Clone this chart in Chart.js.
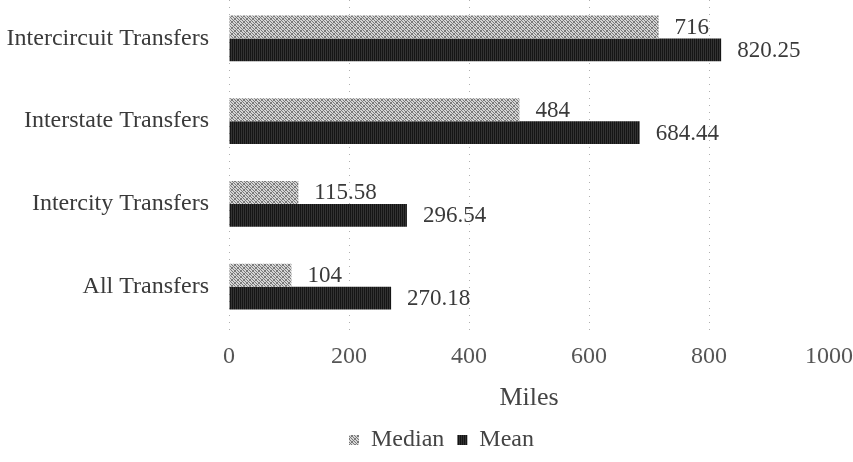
<!DOCTYPE html>
<html>
<head>
<meta charset="utf-8">
<script src="https://cdn.jsdelivr.net/npm/chart.js@4/dist/chart.umd.min.js"></script>
<style>
  html, body { margin: 0; padding: 0; background: #fff; }
  #wrap { width: 853px; height: 462px; }
</style>
</head>
<body>
<div id="wrap"><canvas id="c" width="853" height="462"></canvas></div>
<script>
const categories = ['Intercircuit Transfers', 'Interstate Transfers', 'Intercity Transfers', 'All Transfers'];
const medianMiles = [716, 484, 115.58, 104];
const meanMiles = [820.25, 684.44, 296.54, 270.18];
const medianLabels = ['716', '484', '115.58', '104'];
const meanLabels = ['820.25', '684.44', '296.54', '270.18'];
const xTicks = [0, 200, 400, 600, 800, 1000];

const FONT = '"Liberation Serif", "Times New Roman", serif';

// Grey hatched fill for the median bars
function hatchPattern() {
  const c = document.createElement('canvas');
  c.width = 6; c.height = 6;
  const g = c.getContext('2d');
  g.fillStyle = '#d6d6d6';
  g.fillRect(0, 0, 6, 6);
  g.fillStyle = '#7a7a7a';
  for (let i = 0; i < 6; i++) {
    g.fillRect(i % 6, i, 1, 1);
    g.fillRect((i + 3) % 6, i, 1, 1);
    g.fillRect((7 - i) % 6, i, 1, 1);
  }
  return g.createPattern(c, 'repeat');
}
// Near-black fill with faint vertical striping for the mean bars
function darkPattern() {
  const c = document.createElement('canvas');
  c.width = 2; c.height = 2;
  const g = c.getContext('2d');
  g.fillStyle = '#151515';
  g.fillRect(0, 0, 2, 2);
  g.fillStyle = '#333333';
  g.fillRect(1, 0, 1, 2);
  return g.createPattern(c, 'repeat');
}

// Category bands sit slightly higher than the plot frame; legend is nudged right
const layoutTweaks = {
  id: 'layoutTweaks',
  afterLayout(chart) {
    const y = chart.scales.y;
    y.top -= 3;
    y.bottom -= 2;
    y.configure();
    chart.legend.left += 54;
  }
};

const valueLabels = {
  id: 'valueLabels',
  afterDatasetsDraw(chart) {
    const ctx = chart.ctx;
    ctx.save();
    ctx.font = '23px ' + FONT;
    ctx.fillStyle = '#3a3a3a';
    ctx.textAlign = 'left';
    ctx.textBaseline = 'middle';
    const texts = [medianLabels, meanLabels];
    chart.data.datasets.forEach((ds, di) => {
      chart.getDatasetMeta(di).data.forEach((bar, i) => {
        ctx.fillText(texts[di][i], bar.x + 16, bar.y + 1);
      });
    });
    ctx.restore();
  }
};

new Chart(document.getElementById('c'), {
  type: 'bar',
  data: {
    labels: categories,
    datasets: [
      { label: 'Median', data: medianMiles, backgroundColor: hatchPattern(), borderWidth: 0 },
      { label: 'Mean', data: meanMiles, backgroundColor: darkPattern(), borderWidth: 0 }
    ]
  },
  options: {
    indexAxis: 'y',
    responsive: false,
    animation: false,
    layout: { padding: { top: 0, right: 24, bottom: 0, left: 0 } },
    datasets: { bar: { categoryPercentage: 0.555, barPercentage: 1.0 } },
    scales: {
      x: {
        min: 0, max: 1000,
        afterBuildTicks(axis) { axis.ticks = xTicks.map(v => ({ value: v })); },
        grid: {
          color: ctx => (ctx.tick && ctx.tick.value === 1000 ? 'rgba(0,0,0,0)' : '#b0b0b0'),
          lineWidth: 1,
          drawTicks: false
        },
        border: { display: false, dash: [1, 6] },
        ticks: { font: { family: FONT, size: 24 }, color: '#555', padding: 12, callback: v => String(v) },
        title: { display: true, text: 'Miles', font: { family: FONT, size: 26 }, color: '#444', padding: { top: 0, bottom: 1 } },
        afterFit(axis) { axis.paddingLeft = 0; axis.paddingRight = 0; }
      },
      y: {
        grid: { display: false, drawTicks: false },
        border: { display: false },
        ticks: { font: { family: FONT, size: 24 }, color: '#3a3a3a', padding: 20 },
        afterFit(axis) { axis.width = 229; axis.paddingTop = 0; axis.paddingBottom = 0; }
      }
    },
    plugins: {
      legend: {
        position: 'bottom',
        labels: { font: { family: FONT, size: 24 }, color: '#444', boxWidth: 10, boxHeight: 10, padding: 13 }
      },
      tooltip: { enabled: false }
    }
  },
  plugins: [layoutTweaks, valueLabels]
});
</script>
</body>
</html>
